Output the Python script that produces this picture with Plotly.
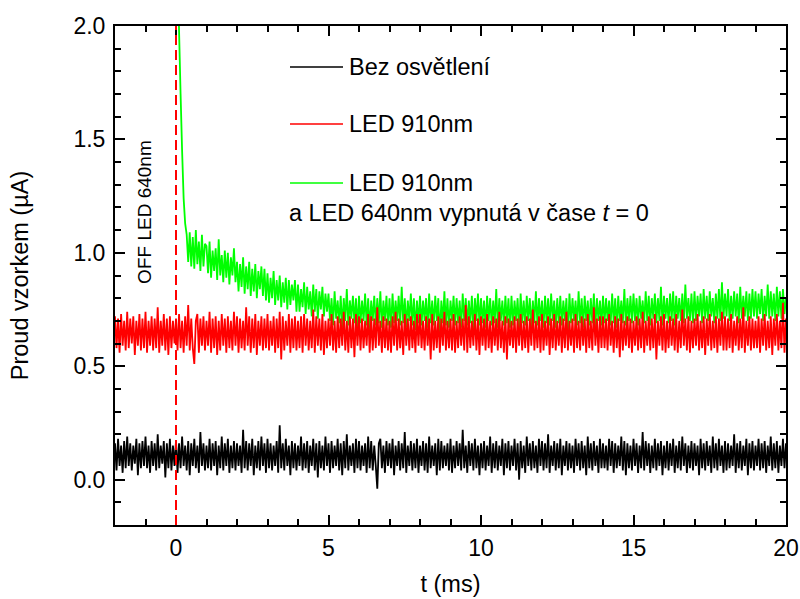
import numpy as np
import plotly.graph_objects as go

# Sampling grid: 0.05 ms between samples
DT = 0.05

# Dark current (no illumination), t = -2 ... 20 ms
dark = [
    .16,.04,.18,.06,.15,.03,.17,.05,.19,.06,.16,.04,.15,.07,.18,.02,.16,.05,.17,.06,
    .19,.05,.15,.03,.17,.06,.16,.04,.20,.05,.15,.07,.17,.01,.16,.05,.18,.04,.15,.06,
    .17,.03,.16,.05,.19,.06,.15,.04,.17,.02,.16,.06,.18,.05,.15,.03,.21,.06,.16,.04,
    .15,.05,.18,.04,.16,.06,.17,.02,.15,.05,.19,.04,.16,.06,.18,.03,.15,.05,.17,.04,
    .16,.06,.15,.03,.22,.05,.17,.04,.16,.06,.18,.02,.15,.05,.17,.04,.19,.06,.16,.03,
    .18,.05,.16,.04,.15,.06,.17,.03,.24,.05,.16,.04,.18,.06,.15,.02,.17,.05,.16,.04,
    .15,.06,.19,.04,.16,.05,.17,.03,.15,.06,.18,.04,.16,.01,.17,.05,.15,.04,.19,.06,
    .16,.03,.17,.05,.15,.06,.18,.04,.16,.02,.17,.05,.20,.04,.15,.06,.16,.03,.18,.05,
    .17,.04,.15,.06,.16,.03,.19,.05,.17,.04,.15,.06,-.04,.16,.18,.05,.15,.03,.17,.06,
    .16,.05,.18,.02,.15,.06,.17,.04,.16,.05,.21,.03,.15,.06,.17,.04,.16,.05,.18,.03,
    .15,.06,.17,.04,.16,.03,.19,.05,.15,.06,.16,.02,.18,.04,.17,.05,.15,.06,.16,.04,
    .18,.03,.15,.05,.17,.06,.16,.04,.22,.05,.15,.03,.17,.06,.16,.04,.18,.05,.15,.02,
    .16,.05,.17,.04,.15,.06,.19,.03,.16,.05,.17,.04,.15,.06,.18,.02,.16,.05,.17,.04,
    .15,.06,.18,.04,.16,.00,.17,.05,.15,.03,.19,.06,.16,.04,.17,.05,.15,.03,.18,.06,
    .17,.04,.16,.05,.20,.03,.15,.06,.17,.04,.16,.05,.18,.02,.15,.06,.17,.04,.16,.05,
    .15,.03,.18,.06,.16,.04,.17,.05,.15,.02,.19,.05,.16,.04,.17,.06,.15,.03,.18,.05,
    .16,.05,.15,.04,.18,.06,.17,.03,.16,.05,.15,.06,.19,.04,.17,.02,.16,.05,.15,.04,
    .18,.06,.16,.03,.15,.05,.21,.04,.17,.06,.16,.03,.15,.05,.18,.04,.16,.06,.17,.02,
    .15,.05,.17,.04,.16,.06,.18,.03,.15,.05,.17,.04,.19,.06,.16,.03,.15,.05,.17,.04,
    .16,.06,.15,.02,.18,.05,.16,.04,.17,.06,.15,.03,.19,.05,.16,.04,.18,.06,.15,.03,
    .17,.04,.16,.05,.15,.06,.20,.03,.16,.05,.17,.04,.15,.06,.18,.02,.16,.05,.17,.04,
    .15,.06,.18,.04,.16,.05,.17,.03,.15,.06,.19,.04,.16,.05,.17,.03,.15,.06,.18,.05,
    .16,
]

# LED 910 nm only, t = -2 ... 20 ms
led910 = [
    .72,.58,.71,.56,.73,.59,.70,.57,.74,.58,.71,.60,.72,.55,.70,.59,.73,.57,.71,.58,
    .74,.56,.70,.59,.72,.57,.71,.58,.76,.56,.70,.59,.73,.57,.71,.55,.72,.58,.70,.60,
    .71,.57,.73,.58,.70,.56,.72,.59,.77,.57,.71,.58,.51,.70,.73,.56,.71,.59,.72,.57,
    .70,.59,.74,.56,.71,.58,.72,.55,.70,.57,.73,.59,.71,.56,.72,.58,.70,.57,.74,.59,
    .72,.56,.71,.58,.70,.57,.76,.59,.72,.56,.71,.58,.73,.55,.70,.59,.72,.57,.71,.58,
    .73,.57,.70,.59,.72,.56,.71,.58,.74,.53,.72,.57,.70,.59,.73,.56,.71,.58,.72,.57,
    .70,.58,.72,.56,.73,.59,.71,.57,.70,.58,.75,.56,.72,.59,.71,.57,.73,.55,.70,.58,
    .71,.59,.73,.57,.70,.56,.72,.58,.71,.59,.74,.57,.70,.56,.72,.58,.71,.54,.73,.59,
    .72,.57,.71,.58,.70,.59,.73,.56,.72,.57,.71,.58,.76,.59,.70,.56,.72,.58,.71,.57,
    .70,.56,.72,.59,.74,.57,.71,.58,.70,.55,.73,.59,.71,.57,.72,.58,.70,.56,.73,.59,
    .73,.58,.70,.57,.72,.59,.71,.53,.73,.57,.70,.58,.72,.56,.71,.59,.74,.57,.70,.58,
    .71,.57,.73,.56,.70,.58,.72,.59,.71,.57,.77,.56,.72,.58,.70,.59,.73,.57,.71,.55,
    .72,.59,.71,.57,.73,.58,.70,.56,.72,.59,.71,.57,.74,.58,.70,.56,.72,.53,.71,.59,
    .70,.58,.72,.56,.71,.59,.73,.57,.70,.58,.72,.56,.71,.59,.75,.57,.70,.58,.72,.56,
    .73,.57,.70,.59,.72,.55,.71,.58,.73,.57,.70,.59,.72,.56,.71,.58,.74,.57,.70,.59,
    .71,.56,.73,.58,.70,.57,.72,.59,.71,.56,.73,.58,.70,.57,.76,.59,.71,.56,.72,.58,
    .72,.58,.71,.57,.73,.59,.70,.56,.72,.58,.71,.54,.73,.57,.70,.59,.72,.58,.71,.56,
    .70,.59,.72,.57,.71,.58,.74,.56,.70,.59,.72,.57,.71,.58,.73,.53,.70,.59,.72,.57,
    .73,.56,.70,.58,.72,.59,.71,.57,.73,.56,.70,.58,.75,.59,.71,.57,.72,.56,.70,.58,
    .71,.59,.73,.57,.70,.58,.72,.55,.71,.59,.73,.57,.70,.58,.72,.56,.71,.59,.74,.57,
    .72,.57,.71,.58,.73,.56,.70,.59,.72,.57,.71,.58,.76,.56,.70,.59,.72,.57,.71,.58,
    .70,.58,.72,.56,.71,.59,.73,.57,.70,.58,.72,.55,.71,.59,.73,.57,.70,.58,.78,.56,
    .71,
]

# LED 910 nm with LED 640 nm switched off at t = 0, t = 0 ... 20 ms
led910_off640 = [
    2.80,2.30,1.98,1.70,1.45,1.24,1.13,1.08,.96,1.09,.94,1.07,.93,1.10,.95,1.05,.92,1.08,.94,1.04,
    1.03,.91,1.05,.89,1.01,.92,1.02,.88,1.06,.90,.99,.87,1.01,.89,1.00,.86,.98,.90,1.02,.87,
    .96,.83,.95,.85,.98,.82,.94,.84,.96,.81,.93,.83,.95,.80,.92,.84,.94,.81,.93,.79,
    .91,.78,.89,.80,.92,.77,.88,.79,.90,.76,.87,.78,.89,.75,.88,.77,.86,.79,.88,.74,
    .86,.74,.84,.76,.87,.73,.85,.75,.83,.72,.86,.74,.84,.71,.83,.75,.85,.72,.82,.74,
    .82,.70,.80,.68,.83,.71,.79,.69,.81,.67,.80,.70,.84,.68,.79,.71,.81,.69,.80,.67,
    .81,.69,.79,.70,.82,.68,.80,.66,.79,.70,.81,.68,.80,.69,.83,.67,.79,.70,.81,.68,
    .80,.67,.82,.69,.79,.70,.81,.68,.85,.69,.80,.67,.79,.70,.82,.68,.80,.66,.79,.69,
    .81,.68,.79,.70,.80,.67,.82,.69,.79,.68,.81,.70,.80,.63,.79,.69,.83,.68,.80,.67,
    .79,.70,.81,.68,.80,.69,.79,.67,.82,.70,.80,.68,.79,.69,.81,.66,.80,.70,.82,.68,
    .80,.69,.79,.67,.81,.70,.80,.68,.79,.69,.84,.67,.80,.70,.79,.68,.81,.69,.80,.67,
    .81,.68,.79,.70,.80,.66,.82,.69,.79,.68,.81,.70,.80,.67,.79,.69,.83,.68,.80,.70,
    .79,.67,.81,.69,.80,.68,.82,.70,.79,.67,.80,.69,.81,.68,.79,.70,.80,.64,.82,.69,
    .80,.70,.79,.68,.83,.69,.80,.67,.81,.70,.79,.68,.80,.69,.82,.67,.80,.70,.79,.68,
    .81,.69,.80,.70,.79,.68,.82,.69,.80,.67,.81,.70,.79,.69,.84,.68,.80,.70,.81,.69,
    .82,.70,.80,.68,.81,.71,.79,.69,.83,.70,.81,.68,.80,.71,.82,.69,.80,.70,.85,.68,
    .81,.71,.80,.69,.82,.70,.83,.68,.81,.71,.80,.70,.82,.69,.86,.71,.80,.70,.82,.69,
    .83,.70,.81,.72,.82,.69,.84,.71,.81,.70,.83,.72,.80,.69,.82,.71,.84,.70,.87,.71,
    .82,.72,.84,.70,.81,.71,.83,.72,.82,.69,.85,.71,.81,.72,.83,.70,.82,.71,.84,.72,
    .83,.71,.82,.73,.84,.70,.81,.72,.86,.71,.83,.72,.82,.70,.85,.72,.83,.71,.84,.73,
    .80,
]

T_START_DARK = -2.0
T_START_910 = -2.0
T_START_OFF = 0.0
T_SWITCH = 0.0

legend_names = ["Bez osvětlení", "LED 910nm", "LED 910nm"]
legend_second_line = "a LED 640nm vypnutá v čase <i>t</i> = 0"
switch_label = "OFF LED 640nm"

t_dark = T_START_DARK + DT * np.arange(len(dark))
t_910 = T_START_910 + DT * np.arange(len(led910))
t_off = T_START_OFF + DT * np.arange(len(led910_off640))

FONT = "Liberation Sans, Arial, Helvetica, sans-serif"
BLACK, RED, GREEN = "#000000", "#ff0000", "#00ff00"
LW = 1.8

fig = go.Figure()
for t, y, c in [(t_off, led910_off640, GREEN), (t_910, led910, RED), (t_dark, dark, BLACK)]:
    fig.add_trace(go.Scatter(x=t, y=y, mode="lines",
                             line=dict(color=c, width=LW, simplify=False),
                             showlegend=False))

# dashed marker for the moment the 640 nm LED is switched off
fig.add_shape(type="line", xref="x", yref="y", x0=T_SWITCH, x1=T_SWITCH,
              y0=-0.2, y1=2.0, line=dict(color=RED, width=2, dash="10px,5px"),
              layer="above")
fig.add_annotation(x=-1.02, y=1.18, xref="x", yref="y", text=switch_label,
                   textangle=-90, showarrow=False,
                   font=dict(family=FONT, size=19, color="black"))

# hand-built legend (line sample + label) in paper coordinates
W, H = 671.0, 499.0
def px(xp):
    return (xp - 115) / W
def py(yp):
    return (525 - yp) / H

legend_rows = [(BLACK, 67, legend_names[0]), (RED, 124, legend_names[1]),
               (GREEN, 183, legend_names[2])]
for color, ypix, name in legend_rows:
    fig.add_shape(type="line", xref="paper", yref="paper",
                  x0=px(290), x1=px(343), y0=py(ypix), y1=py(ypix),
                  line=dict(color=color, width=1.5))
    fig.add_annotation(xref="paper", yref="paper", x=px(347), y=py(ypix),
                       xanchor="left", yanchor="middle", text=name,
                       showarrow=False, font=dict(family=FONT, size=23.5, color="black"))
fig.add_annotation(xref="paper", yref="paper", x=px(287), y=py(213),
                   xanchor="left", yanchor="middle", text=legend_second_line,
                   showarrow=False, font=dict(family=FONT, size=23.5, color="black"))

axis_common = dict(
    showline=True, linecolor="black", linewidth=2, mirror="ticks",
    ticks="inside", ticklen=10, tickwidth=2, tickcolor="black",
    showgrid=False, zeroline=False, automargin=False,
    tickfont=dict(family=FONT, size=23, color="black"),
)

fig.update_xaxes(
    range=[-2, 20], tickvals=[0, 5, 10, 15, 20],
    minor=dict(dtick=1, tick0=0, ticks="inside", ticklen=6, tickwidth=2,
               tickcolor="black", showgrid=False),
    title=dict(text="t (ms)", font=dict(family=FONT, size=23.5, color="black"),
               standoff=16),
    ticklabelstandoff=1,
    **axis_common,
)
fig.update_yaxes(
    range=[-0.2, 2.0], tickvals=[0.0, 0.5, 1.0, 1.5, 2.0], tickformat=".1f",
    minor=dict(dtick=0.1, tick0=0, ticks="inside", ticklen=6, tickwidth=2,
               tickcolor="black", showgrid=False),
    title=dict(text="Proud vzorkem (µA)", font=dict(family=FONT, size=23.5, color="black"),
               standoff=38),
    ticklabelstandoff=3,
    **axis_common,
)

fig.update_layout(
    width=800, height=599,
    margin=dict(l=115, r=14, t=26, b=74),
    paper_bgcolor="white", plot_bgcolor="white",
    font=dict(family=FONT, color="black"),
)

fig.write_html("out.html")
